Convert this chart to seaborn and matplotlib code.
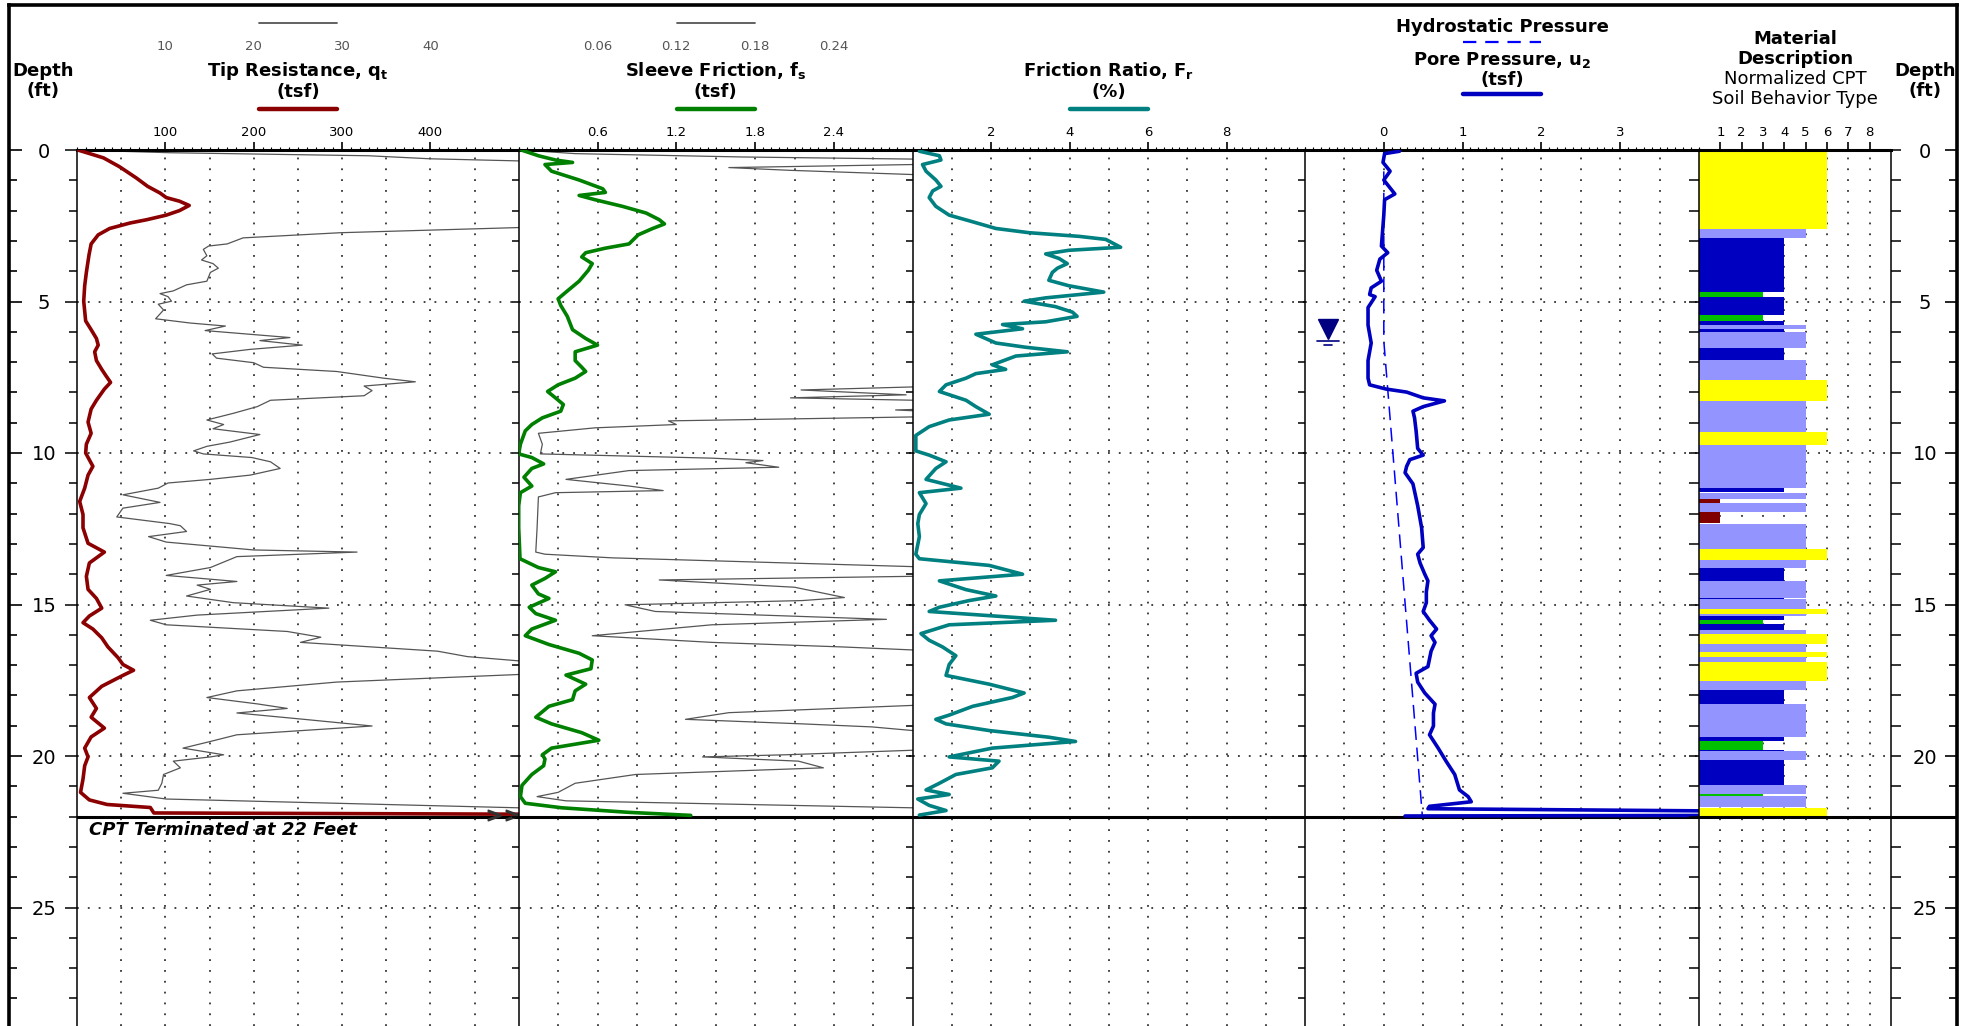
import numpy as np
import matplotlib
matplotlib.use("Agg")
import matplotlib.pyplot as plt
import matplotlib.transforms as mtransforms
from matplotlib.lines import Line2D
import seaborn as sns

# ---------------------------------------------------------------
# CPT sounding, values: [depth (ft), value]
# ---------------------------------------------------------------
qt_profile = np.array([
    [0.00, 1], [0.26, 30], [0.55, 48], [0.92, 67], [1.20, 80], [1.42, 94], [1.57, 101],
    [1.69, 116], [1.83, 127], [2.00, 116], [2.15, 101], [2.30, 79], [2.41, 60], [2.59, 37],
    [2.80, 24], [3.10, 16], [3.46, 13.6], [4.04, 10.6], [4.48, 8.7], [4.99, 7.6], [5.64, 9.8],
    [5.93, 16], [6.22, 22], [6.44, 24], [6.66, 20], [6.95, 22], [7.24, 28], [7.46, 33],
    [7.67, 38], [7.89, 31], [8.26, 22], [8.55, 16], [8.98, 12.5], [9.35, 16], [9.71, 10.6],
    [10.00, 9.8], [10.44, 18], [10.73, 12.5], [11.16, 8.7], [11.60, 3], [12.03, 6.8],
    [12.47, 6.8], [12.98, 12.5], [13.27, 31], [13.63, 14], [14.07, 10.6], [14.50, 12.5],
    [14.80, 22], [15.12, 28], [15.38, 14], [15.60, 6.8], [15.81, 18], [16.10, 28], [16.40, 35],
    [16.76, 46.6], [16.98, 52], [17.17, 64], [17.34, 52], [17.70, 28], [18.07, 14], [18.43, 22],
    [18.72, 16], [19.08, 31], [19.37, 16], [19.74, 8.7], [20.03, 12.5], [20.32, 8.7],
    [20.76, 6.8], [21.20, 4], [21.45, 14], [21.60, 34], [21.70, 83], [21.88, 87], [21.93, 600],
])

# thin grey trace on the tip panel (upper scale 0-50)
qt_grey_profile = np.array([
    [0.00, 0.1], [0.09, 10.5], [0.19, 33], [0.29, 40], [0.36, 50], [0.45, 60], [2.45, 60],
    [2.56, 50], [2.73, 29.8], [2.90, 18.8], [3.10, 17], [3.17, 14.9], [3.28, 14.3], [3.49, 14.7],
    [3.63, 14.1], [3.75, 15.4], [3.90, 16], [4.04, 15.1], [4.33, 14.7], [4.45, 12.4], [4.65, 10.9],
    [4.74, 9.4], [4.84, 10.3], [4.99, 10.7], [5.09, 9.2], [5.28, 9.8], [5.57, 8.9], [5.71, 12.8],
    [5.81, 16.8], [5.96, 14.5], [6.19, 24.1], [6.29, 20.7], [6.44, 25.5], [6.58, 19.6],
    [6.73, 15.3], [6.87, 15.8], [7.02, 20], [7.17, 21.1], [7.31, 29.4], [7.53, 34.7],
    [7.65, 38.3], [7.79, 32.5], [7.94, 33.4], [8.11, 32.5], [8.26, 21.9], [8.47, 20.4],
    [8.69, 17.7], [8.91, 14.7], [9.06, 16.6], [9.20, 15.4], [9.39, 20.7], [9.64, 17.3],
    [9.78, 14.7], [9.93, 13.2], [10.03, 14.3], [10.15, 19.8], [10.29, 21.9], [10.51, 23],
    [10.73, 19.6], [10.87, 15.1], [10.99, 10.3], [11.16, 9.2], [11.38, 5.2], [11.63, 9.4],
    [11.82, 5.2], [12.11, 4.5], [12.33, 10.5], [12.40, 11.7], [12.59, 12.4], [12.76, 8.1],
    [12.94, 10.1], [13.20, 20], [13.27, 31.7], [13.42, 18.1], [13.78, 15.1], [14.04, 10.1],
    [14.24, 18.1], [14.36, 13.6], [14.50, 15.1], [14.72, 12.4], [14.94, 17.7], [15.12, 28.5],
    [15.35, 13.6], [15.52, 8.3], [15.67, 10.1], [15.89, 23.8], [16.08, 27.6], [16.25, 25.3],
    [16.54, 40.8], [16.72, 44.2], [16.86, 50], [16.95, 60], [17.22, 60], [17.31, 50],
    [17.56, 29.4], [17.85, 18.1], [18.07, 14.7], [18.28, 20.4], [18.43, 23.8], [18.58, 18.1],
    [18.79, 25.7], [19.01, 33.4], [19.30, 18.1], [19.52, 15.1], [19.74, 12], [19.96, 16.6],
    [20.03, 15.1], [20.17, 10.9], [20.39, 11.7], [20.61, 9.8], [20.90, 9.6], [21.13, 9.2],
    [21.23, 5.2], [21.42, 10.1], [21.56, 29.4], [21.71, 50], [21.80, 60],
])

fs_profile = np.array([
    [0.00, 0.02], [0.19, 0.15], [0.33, 0.28], [0.41, 0.41], [0.48, 0.20], [0.70, 0.25],
    [0.99, 0.46], [1.28, 0.64], [1.40, 0.66], [1.50, 0.46], [1.64, 0.58], [1.86, 0.79],
    [2.08, 0.97], [2.30, 1.07], [2.44, 1.11], [2.59, 1.02], [2.80, 0.91], [3.10, 0.84],
    [3.24, 0.66], [3.39, 0.51], [3.53, 0.48], [3.75, 0.56], [3.97, 0.53], [4.33, 0.46],
    [4.69, 0.36], [4.91, 0.30], [5.13, 0.32], [5.49, 0.37], [5.93, 0.41], [6.22, 0.51],
    [6.44, 0.60], [6.66, 0.43], [6.95, 0.43], [7.17, 0.48], [7.31, 0.51], [7.53, 0.43],
    [7.75, 0.30], [7.97, 0.22], [8.18, 0.28], [8.40, 0.34], [8.62, 0.32], [8.84, 0.18],
    [9.06, 0.10], [9.27, 0.05], [9.71, 0.013], [10.03, 0.00], [10.15, 0.10], [10.36, 0.19],
    [10.51, 0.10], [10.80, 0.04], [11.09, 0.10], [11.31, 0.013], [11.74, 0.00], [12.47, 0.00],
    [13.49, 0.01], [13.78, 0.15], [13.92, 0.28], [14.14, 0.20], [14.36, 0.10], [14.65, 0.15],
    [14.80, 0.23], [15.09, 0.08], [15.30, 0.13], [15.52, 0.28], [15.81, 0.10], [16.03, 0.05],
    [16.32, 0.23], [16.61, 0.46], [16.83, 0.56], [17.12, 0.55], [17.33, 0.36], [17.63, 0.51],
    [17.85, 0.43], [18.14, 0.41], [18.36, 0.23], [18.72, 0.13], [18.94, 0.25], [19.23, 0.48],
    [19.48, 0.61], [19.74, 0.25], [19.96, 0.18], [20.10, 0.20], [20.32, 0.19], [20.61, 0.10],
    [20.97, 0.025], [21.34, 0.013], [21.56, 0.05], [21.71, 0.33], [21.86, 0.84], [21.96, 1.31],
])

# thin grey trace on the sleeve panel (upper scale 0-0.3)
fs_grey_profile = np.array([
    [0.00, 0.003], [0.12, 0.043], [0.23, 0.17], [0.30, 0.30], [0.38, 0.35], [0.45, 0.35],
    [0.48, 0.30], [0.58, 0.16], [0.67, 0.206], [0.78, 0.28], [0.81, 0.30], [0.90, 0.35],
    [7.70, 0.35], [7.82, 0.30], [7.92, 0.215], [8.08, 0.295], [8.18, 0.207], [8.30, 0.35],
    [8.50, 0.35], [8.58, 0.287], [8.70, 0.35], [8.78, 0.35], [8.81, 0.30], [8.94, 0.114],
    [9.06, 0.12], [9.17, 0.058], [9.35, 0.015], [9.71, 0.018], [10.03, 0.0165], [10.17, 0.147],
    [10.25, 0.186], [10.32, 0.173], [10.47, 0.198], [10.58, 0.084], [10.87, 0.036],
    [11.09, 0.084], [11.24, 0.11], [11.31, 0.028], [11.45, 0.015], [12.47, 0.014],
    [13.27, 0.013], [13.34, 0.02], [13.46, 0.071], [13.75, 0.30], [13.85, 0.35], [13.98, 0.35],
    [14.07, 0.30], [14.19, 0.107], [14.43, 0.21], [14.77, 0.248], [14.87, 0.216], [15.01, 0.081],
    [15.23, 0.104], [15.49, 0.28], [15.67, 0.147], [16.03, 0.056], [16.25, 0.147], [16.40, 0.246],
    [16.50, 0.30], [16.60, 0.35], [18.25, 0.35], [18.33, 0.30], [18.57, 0.16], [18.79, 0.127],
    [18.94, 0.216], [19.04, 0.269], [19.16, 0.30], [19.25, 0.35], [19.75, 0.35], [19.81, 0.30],
    [19.96, 0.203], [20.03, 0.14], [20.17, 0.213], [20.39, 0.232], [20.61, 0.089], [20.90, 0.043],
    [21.20, 0.03], [21.34, 0.014], [21.48, 0.036], [21.71, 0.30], [21.80, 0.35],
])

fr_profile = np.array([
    [0.04, 0.17], [0.19, 0.68], [0.33, 0.72], [0.48, 0.25], [0.70, 0.34], [0.99, 0.59],
    [1.20, 0.72], [1.35, 0.51], [1.57, 0.42], [1.86, 0.59], [2.15, 0.93], [2.37, 1.53],
    [2.59, 2.12], [2.73, 2.97], [2.85, 4.24], [2.95, 4.92], [3.21, 5.30], [3.31, 3.98],
    [3.43, 3.39], [3.58, 3.73], [3.75, 3.94], [3.90, 3.69], [4.04, 3.56], [4.30, 3.47],
    [4.48, 3.98], [4.69, 4.87], [4.88, 3.39], [4.99, 2.84], [5.17, 3.64], [5.35, 4.07],
    [5.49, 4.19], [5.67, 3.39], [5.76, 2.29], [5.90, 2.80], [6.08, 1.61], [6.37, 2.12],
    [6.51, 2.88], [6.66, 3.94], [6.80, 2.63], [7.09, 2.03], [7.24, 2.37], [7.38, 1.61],
    [7.53, 1.36], [7.75, 0.85], [7.97, 0.68], [8.26, 1.36], [8.47, 1.61], [8.72, 1.95],
    [8.91, 0.93], [9.13, 0.42], [9.42, 0.08], [9.93, 0.08], [10.07, 0.42], [10.29, 0.85],
    [10.51, 0.59], [10.87, 0.34], [11.16, 1.23], [11.31, 0.17], [11.67, 0.34], [12.03, 0.17],
    [12.33, 0.13], [12.76, 0.17], [13.34, 0.08], [13.49, 0.17], [13.71, 1.95], [14.00, 2.80],
    [14.22, 0.68], [14.51, 1.36], [14.72, 2.12], [14.87, 1.44], [15.09, 0.68], [15.23, 0.42],
    [15.52, 3.64], [15.67, 0.93], [15.96, 0.21], [16.18, 0.42], [16.40, 0.76], [16.69, 1.10],
    [16.98, 0.93], [17.34, 0.85], [17.63, 1.95], [17.92, 2.84], [18.07, 2.54], [18.36, 1.53],
    [18.65, 0.93], [18.79, 0.59], [18.94, 0.85], [19.16, 1.95], [19.38, 3.47], [19.52, 4.15],
    [19.74, 2.03], [20.03, 0.93], [20.17, 2.20], [20.39, 2.03], [20.61, 1.10], [20.90, 0.68],
    [21.12, 0.34], [21.27, 0.93], [21.42, 0.13], [21.63, 0.42], [21.80, 0.85], [21.95, 0.17],
])

u2_profile = np.array([
    [0.04, 0.20], [0.12, 0.01], [0.41, -0.01], [0.70, 0.08], [0.99, 0.00], [1.45, 0.14],
    [1.64, 0.01], [2.15, 0.00], [3.17, -0.03], [3.39, 0.05], [3.60, -0.05], [3.97, -0.09],
    [4.33, -0.03], [4.55, -0.16], [4.77, -0.18], [4.84, -0.11], [5.20, -0.20], [5.78, -0.20],
    [6.37, -0.16], [6.95, -0.20], [7.53, -0.20], [7.75, -0.18], [7.89, 0.03], [7.99, 0.29],
    [8.18, 0.50], [8.28, 0.77], [8.47, 0.50], [8.62, 0.37], [8.84, 0.39], [9.27, 0.41],
    [9.85, 0.43], [10.07, 0.50], [10.22, 0.33], [10.44, 0.29], [10.65, 0.27], [11.02, 0.37],
    [11.74, 0.43], [12.47, 0.48], [13.12, 0.50], [13.34, 0.43], [13.63, 0.46], [14.00, 0.52],
    [14.22, 0.56], [14.58, 0.54], [14.94, 0.54], [15.23, 0.50], [15.52, 0.58], [15.81, 0.67],
    [16.03, 0.60], [16.25, 0.65], [16.54, 0.60], [17.05, 0.56], [17.27, 0.41], [17.56, 0.43],
    [17.92, 0.52], [18.29, 0.65], [18.58, 0.63], [19.01, 0.63], [19.30, 0.58], [19.74, 0.69],
    [20.17, 0.79], [20.61, 0.90], [21.12, 0.96], [21.34, 1.07], [21.51, 1.11], [21.66, 0.58],
    [21.74, 0.56], [21.82, 4.5], [21.96, 4.5], [21.98, 0.27],
])

hydro_profile = np.array([[0.0, 0.0], [6.3, 0.0], [22.0, 0.49]])
water_table_depth = 6.3
cpt_end_depth = 22

# Normalized SBT layers: top (ft), bottom (ft), zone
sbt_top = [0.00, 2.61, 2.90, 4.70, 4.85, 5.43, 5.65, 5.78, 5.92, 6.00, 6.55, 6.93, 7.60, 8.28,
           9.31, 9.73, 11.14, 11.31, 11.52, 11.66, 11.94, 12.33, 13.17, 13.54, 13.78, 14.22,
           14.77, 14.83, 15.15, 15.31, 15.39, 15.52, 15.65, 15.85, 15.98, 16.32, 16.58, 16.73,
           16.91, 17.54, 17.83, 18.29, 19.37, 19.52, 19.81, 19.85, 20.12, 20.97, 21.25, 21.32,
           21.72]
sbt_bot = [2.61, 2.90, 4.70, 4.85, 5.43, 5.65, 5.78, 5.92, 6.00, 6.55, 6.93, 7.60, 8.28, 9.31,
           9.73, 11.14, 11.28, 11.52, 11.66, 11.94, 12.31, 13.17, 13.54, 13.78, 14.22, 14.77,
           14.83, 15.15, 15.31, 15.39, 15.52, 15.65, 15.85, 15.98, 16.32, 16.58, 16.73, 16.91,
           17.54, 17.83, 18.29, 19.37, 19.52, 19.81, 19.85, 20.12, 20.97, 21.25, 21.32, 21.69,
           22.00]
sbt_zone = [6, 5, 4, 3, 4, 3, 4, 5, 4, 5, 4, 5, 6, 5, 6, 5, 4, 5, 1, 5, 1, 5, 6, 5, 4, 5,
            4, 5, 6, 5, 4, 3, 4, 5, 6, 5, 6, 5, 6, 5, 4, 5, 4, 3, 4, 5, 4, 5, 3, 5, 6]
sbt_colors = {1: "#800000", 3: "#00C000", 4: "#0000C0", 5: "#9494FF", 6: "#FFFF00"}

# axis setup per track
track_xlim = [(0, 500), (0, 3), (0, 10), (-1, 4), (0, 9)]
track_ticks = [[100, 200, 300, 400], [0.6, 1.2, 1.8, 2.4], [2, 4, 6, 8], [0, 1, 2, 3],
               [1, 2, 3, 4, 5, 6, 7, 8]]
track_tick_labels = [["100", "200", "300", "400"], ["0.6", "1.2", "1.8", "2.4"],
                     ["2", "4", "6", "8"], ["0", "1", "2", "3"],
                     ["1", "2", "3", "4", "5", "6", "7", "8"]]
track_minor_step = [10, 0.06, 0.2, 0.1, None]
track_grid_step = [50, 0.3, 1, 0.5, 1]
qt_upper_labels = ["10", "20", "30", "40"]
fs_upper_labels = ["0.06", "0.12", "0.18", "0.24"]

# ---------------------------------------------------------------
W, H, DPI = 1971, 1026, 100
Y0 = 150            # pixel row of depth 0
PX_FT = 30.3
FRAME_L, FRAME_R, FRAME_T = 9, 1957, 5
edges = [77, 518.7, 912.7, 1305, 1699, 1891]

sns.set_style("ticks", {"axes.edgecolor": "black", "text.color": "black",
                        "xtick.color": "black", "ytick.color": "black"})
plt.rcParams["font.family"] = ["DejaVu Sans"]
plt.rcParams["mathtext.fontset"] = "dejavusans"

fig = plt.figure(figsize=(W / DPI, H / DPI), dpi=DPI)


def fx(px):
    return px / W


def fy(py):
    return 1 - py / H


y_bottom = (H - Y0) / PX_FT
dotted = (0, (1, 5))
grid_kw = dict(color="#333333", lw=1.3, ls=dotted, zorder=0.5)

# outer frame with inward depth ticks
frame = fig.add_axes([fx(FRAME_L), 0, (FRAME_R - FRAME_L) / W, (H - FRAME_T) / H])
frame.set_xlim(0, 1)
frame.set_ylim(y_bottom, -(Y0 - FRAME_T) / PX_FT)
frame.set_xticks([])
frame.set_yticks(range(0, 29, 5))
frame.set_yticks(range(0, 29), minor=True)
frame.tick_params(axis="y", which="both", left=True, right=True, direction="in",
                  labelleft=False, labelright=False)
frame.tick_params(axis="y", which="major", length=9, width=1.2)
frame.tick_params(axis="y", which="minor", length=5.5, width=1.2)
frame.spines["bottom"].set_visible(False)
for s in ["left", "right", "top"]:
    frame.spines[s].set_linewidth(2.6)
# termination line through the right depth scale
xfrac = (edges[-1] - FRAME_L) / (FRAME_R - FRAME_L)
frame.plot([xfrac, 1], [cpt_end_depth] * 2, color="black", lw=2.2,
           transform=mtransforms.blended_transform_factory(frame.transAxes, frame.transData))

axes = []
for i in range(5):
    ax = fig.add_axes([fx(edges[i]), 0, (edges[i + 1] - edges[i]) / W, fy(Y0)])
    ax.set_xlim(*track_xlim[i])
    ax.set_ylim(y_bottom, 0)
    axes.append(ax)

for i, ax in enumerate(axes):
    lo, hi = track_xlim[i]
    # dotted grid
    step = track_grid_step[i]
    for gx in np.arange(lo + step, hi - 1e-9, step):
        ax.axvline(gx, **grid_kw)
    for gy in range(5, 29, 5):
        ax.axhline(gy, **grid_kw)
    # termination line
    ax.axhline(cpt_end_depth, color="black", lw=2.2, zorder=1.5)

    ax.xaxis.tick_top()
    ax.set_xticks(track_ticks[i])
    ax.set_xticklabels(track_tick_labels[i])
    if track_minor_step[i]:
        ax.set_xticks(np.arange(lo, hi + 1e-9, track_minor_step[i]), minor=True)
    ax.tick_params(axis="x", which="major", direction="out", length=6, width=1.2,
                   labelsize=9.5, pad=2)
    ax.tick_params(axis="x", which="minor", direction="out", length=2.5, width=0.8)

    ax.set_yticks(range(0, 29, 5))
    ax.set_yticks(range(0, 29), minor=True)
    ax.tick_params(axis="y", which="both", direction="out", width=1.1, left=True,
                   labelleft=False, right=False, labelright=False)
    ax.tick_params(axis="y", which="major", length=5)
    ax.tick_params(axis="y", which="minor", length=5)

    ax.spines["bottom"].set_visible(False)
    ax.spines["top"].set_linewidth(2.2)
    ax.spines["left"].set_linewidth(1.1)
    ax.spines["right"].set_visible(i == 4)
    ax.spines["right"].set_linewidth(1.1)
    ax.set_xlabel("")
    ax.set_ylabel("")

ax1, ax2, ax3, ax4, ax5 = axes

# left depth labels
ax1.tick_params(axis="y", which="major", length=8.5, labelleft=True, labelsize=14, pad=15.2)
ax1.tick_params(axis="y", which="minor", length=6)
plt.setp(ax1.get_yticklabels(), ha="center")
# right depth labels
ax5.tick_params(axis="y", which="both", right=True, length=7.5)
ax5.tick_params(axis="y", which="major", labelright=True, labelsize=14, pad=17)
plt.setp(ax5.get_yticklabels(), ha="center")

# ---- curves ----
red, green, teal, blue = "#8B0000", "#008000", "#008080", "#0000C0"
grey = "#555555"

sns.lineplot(x=qt_grey_profile[:, 1] * 10, y=qt_grey_profile[:, 0], sort=False,
             estimator=None, color=grey, lw=0.9, ax=ax1, zorder=2)
sns.lineplot(x=qt_profile[:, 1], y=qt_profile[:, 0], sort=False, estimator=None,
             color=red, lw=2.6, ax=ax1, zorder=3)
sns.lineplot(x=fs_grey_profile[:, 1] * 10, y=fs_grey_profile[:, 0], sort=False,
             estimator=None, color=grey, lw=0.9, ax=ax2, zorder=2)
sns.lineplot(x=fs_profile[:, 1], y=fs_profile[:, 0], sort=False, estimator=None,
             color=green, lw=2.6, ax=ax2, zorder=3)
sns.lineplot(x=fr_profile[:, 1], y=fr_profile[:, 0], sort=False, estimator=None,
             color=teal, lw=2.6, ax=ax3, zorder=3)
sns.lineplot(x=hydro_profile[:, 1], y=hydro_profile[:, 0], sort=False, estimator=None,
             color="#0000FF", lw=1.1, ls=(0, (9, 5)), ax=ax4, zorder=2)
sns.lineplot(x=u2_profile[:, 1], y=u2_profile[:, 0], sort=False, estimator=None,
             color=blue, lw=2.6, ax=ax4, zorder=3)

# off-scale chevrons at the end of the tip trace
qmax = track_xlim[0][1]
ax1.plot(qmax * np.array([0.945, 0.985]), [qt_profile[-1, 0] + 0.03] * 2, ls="none",
         marker="$>$", ms=9, color="#333333", zorder=4, clip_on=False)
ax1.text(0.027, cpt_end_depth + 0.45, "CPT Terminated at 22 Feet", fontsize=13,
         fontweight="bold", fontstyle="italic", ha="left", va="center",
         transform=mtransforms.blended_transform_factory(ax1.transAxes, ax1.transData))

# water table symbol
wt_x = track_xlim[3][0] + 0.29
ax4.plot([wt_x], [water_table_depth - 0.38], marker="v", ms=15, color="#000080", zorder=4)
ax4.plot([wt_x - 0.14, wt_x + 0.14], [water_table_depth] * 2, color="#000080", lw=1.2)
ax4.plot([wt_x - 0.05, wt_x + 0.05], [water_table_depth + 0.14] * 2, color="#000080", lw=1.2)

# SBT column
ax5.barh(y=sbt_top, width=sbt_zone, height=np.array(sbt_bot) - np.array(sbt_top),
         left=0, align="edge", color=[sbt_colors[z] for z in sbt_zone], lw=0, zorder=1)

# ---- header ----
bold = dict(fontsize=13, fontweight="bold", ha="center", va="baseline")


def centre(i):
    return fx((edges[i] + edges[i + 1]) / 2)


def sample(i, ypx, color, lw, ls="-", half=39):
    c = (edges[i] + edges[i + 1]) / 2
    fig.add_artist(Line2D([fx(c - half), fx(c + half)], [fy(ypx)] * 2, color=color, lw=lw,
                          ls=ls, solid_capstyle="round"))


fig.text(fx(43), fy(76), "Depth", **bold)
fig.text(fx(43), fy(96), "(ft)", **bold)
fig.text(fx(1925), fy(76), "Depth", **bold)
fig.text(fx(1925), fy(96), "(ft)", **bold)

fig.text(centre(0), fy(76), r"Tip Resistance, q$_\mathbf{t}$", **bold)
fig.text(centre(0), fy(97), "(tsf)", **bold)
sample(0, 109, red, 3.2)
sample(0, 23, grey, 1.3)

fig.text(centre(1), fy(76), r"Sleeve Friction, f$_\mathbf{s}$", **bold)
fig.text(centre(1), fy(97), "(tsf)", **bold)
sample(1, 109, green, 3.2)
sample(1, 23, grey, 1.3)

fig.text(centre(2), fy(76), r"Friction Ratio, F$_\mathbf{r}$", **bold)
fig.text(centre(2), fy(97), "(%)", **bold)
sample(2, 109, teal, 3.2)

fig.text(centre(3), fy(32), "Hydrostatic Pressure", **bold)
sample(3, 42, "#0000FF", 1.6, ls=(0, (6, 4)))
fig.text(centre(3), fy(65), r"Pore Pressure, u$_\mathbf{2}$", **bold)
fig.text(centre(3), fy(85), "(tsf)", **bold)
sample(3, 94, blue, 3.2)

fig.text(centre(4), fy(44), "Material", **bold)
fig.text(centre(4), fy(64), "Description", **bold)
fig.text(centre(4), fy(84), "Normalized CPT", fontsize=13, ha="center", va="baseline")
fig.text(centre(4), fy(104), "Soil Behavior Type", fontsize=13, ha="center", va="baseline")

# upper (grey) scales for the thin traces
for ax, labels in [(ax1, qt_upper_labels), (ax2, fs_upper_labels)]:
    tr = mtransforms.blended_transform_factory(ax.transData, fig.transFigure)
    for lab in labels:
        ax.text(float(lab) * 10, fy(50), lab, transform=tr, ha="center", va="baseline",
                fontsize=9.5, color="#555555")

fig.savefig("out.png", dpi=DPI)
